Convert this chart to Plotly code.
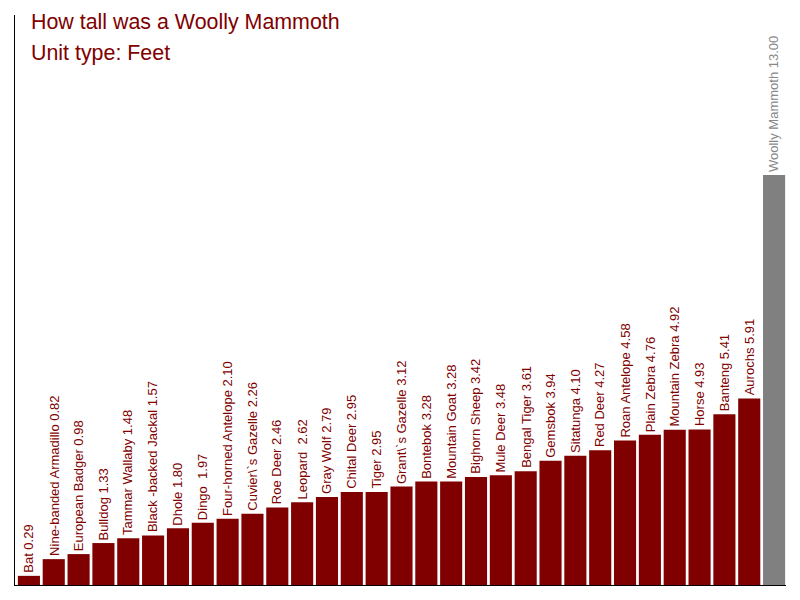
import plotly.graph_objects as go

animals = ["Bat", "Nine-banded Armadillo", "European Badger", "Bulldog", "Tammar Wallaby",
           "Black -backed Jackal", "Dhole", "Dingo ", "Four-horned Antelope", "Cuvier\\`s Gazelle",
           "Roe Deer", "Leopard ", "Gray Wolf", "Chital Deer", "Tiger", "Grant\\`s Gazelle",
           "Bontebok", "Mountain Goat", "Bighorn Sheep", "Mule Deer", "Bengal Tiger", "Gemsbok",
           "Sitatunga", "Red Deer", "Roan Antelope", "Plain Zebra", "Mountain Zebra", "Horse",
           "Banteng", "Aurochs", "Woolly Mammoth"]
heights = [0.29, 0.82, 0.98, 1.33, 1.48, 1.57, 1.80, 1.97, 2.10, 2.26, 2.46, 2.62, 2.79, 2.95,
           2.95, 3.12, 3.28, 3.28, 3.42, 3.48, 3.61, 3.94, 4.10, 4.27, 4.58, 4.76, 4.92, 4.93,
           5.41, 5.91, 13.00]

red = "#800000"
grey = "#808080"
colors = [grey if a == "Woolly Mammoth" else red for a in animals]
xs = list(range(len(animals)))

fig = go.Figure(go.Bar(x=xs, y=heights, marker=dict(color=colors, line=dict(width=0)),
                       width=0.89, hoverinfo="skip"))

# rotated labels sitting on top of each bar
for i, (a, h) in enumerate(zip(animals, heights)):
    fig.add_annotation(x=i, y=h, text=f"{a} {h:.2f}", textangle=-90, showarrow=False,
                       xanchor="center", yanchor="bottom", yshift=1,
                       font=dict(size=13, color="#888888" if a == "Woolly Mammoth" else red))

fig.add_annotation(xref="paper", yref="paper", x=0.018, y=0.9877, xanchor="left", yanchor="middle",
                   text="How tall was a Woolly Mammoth", showarrow=False,
                   font=dict(size=21.4, color=red))
fig.add_annotation(xref="paper", yref="paper", x=0.018, y=0.9333, xanchor="left", yanchor="middle",
                   text="Unit type: Feet", showarrow=False, font=dict(size=21.4, color=red))

# the page body adds an 8px offset, so margins are shifted to compensate
fig.update_layout(
    width=800, height=600,
    margin=dict(l=7, r=22, t=7, b=23),
    paper_bgcolor="white", plot_bgcolor="white",
    font=dict(family="Liberation Sans, Arial, sans-serif"),
    showlegend=False,
    xaxis=dict(range=[-0.56, 30.48], showticklabels=False, ticks="", showgrid=False,
               zeroline=False, showline=True, linecolor="black", linewidth=1),
    yaxis=dict(range=[0, 18.07], showticklabels=False, ticks="", showgrid=False,
               zeroline=False, showline=True, linecolor="black", linewidth=1),
)

fig.write_html("out.html")
